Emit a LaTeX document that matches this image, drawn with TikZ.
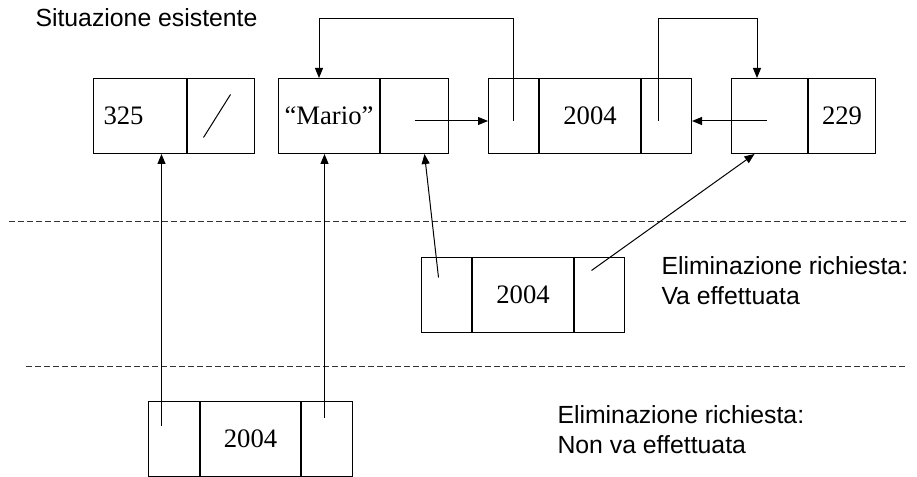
\documentclass[tikz,border=0pt]{standalone}
\usepackage{fontspec}
\setmainfont{Liberation Serif}
\setsansfont{Liberation Sans}
\usetikzlibrary{positioning, arrows.meta}

\tikzset{
  cell/.style={draw, line width=0.75pt, minimum height=56.25pt, inner sep=0pt,
               font=\fontsize{20}{24}\selectfont},
  narrow/.style={cell, minimum width=37.5pt},
  wide/.style={cell, minimum width=75.75pt},
  note/.style={font=\sffamily\fontsize{18.6}{22.5}\selectfont, align=left, inner sep=0pt},
  divide/.style={dash pattern=on 4.5pt off 2.25pt, black!80, line width=0.75pt}
}

\begin{document}
\begin{tikzpicture}[x=0.75pt, y=-0.75pt, line width=0.75pt,
                    >={Triangle[length=7.5pt, width=6pt]}]
  \useasboundingbox (0,0) rectangle (917,477);

  \node[note, anchor=base west] (title) at (35,27) {Situazione esistente};

  \node[cell, anchor=north west, minimum width=69.75pt, inner xsep=7.5pt,
        text width=54.75pt, align=left] (a1) at (93,78) {325};
  \node[cell, minimum width=50.25pt] (a2) [right=0pt of a1] {};
  \node[wide, anchor=north west] (b1) at (278,78) {“Mario”};
  \node[cell, minimum width=51pt] (b2) [right=0pt of b1] {};
  \node[narrow, anchor=north west] (c1) at (488,78) {};
  \node[wide] (c2) [right=0pt of c1] {2004};
  \node[narrow] (c3) [right=0pt of c2] {};
  \node[cell, anchor=north west, minimum width=57pt] (d1) at (731,78) {};
  \node[cell, minimum width=50.25pt] (d2) [right=0pt of d1] {229};

  \node[narrow, anchor=north west] (e1) at (421,257) {};
  \node[wide] (e2) [right=0pt of e1] {2004};
  \node[narrow] (e3) [right=0pt of e2] {};
  \node[note, anchor=north west] (yes) at (661,256) {Eliminazione richiesta:\\Va effettuata};

  \node[narrow, anchor=north west, minimum width=38.25pt] (f1) at (148,401) {};
  \node[wide, minimum width=75pt] (f2) [right=0pt of f1] {2004};
  \node[narrow, minimum width=38.25pt] (f3) [right=0pt of f2] {};
  \node[note, anchor=north west] (no) at (557,405) {Eliminazione richiesta:\\Non va effettuata};

  \draw[divide] (9,222) -- (907,222);
  \draw[divide] (26,366) -- (907,366);

  \draw ([shift={(-17.5,21.5)}]a2.center) -- ([shift={(9.5,-21.5)}]a2.center);

  \coordinate (up1) at (319,19);
  \coordinate (up2) at (757,19);
  \draw[->] ([yshift=-3.75pt]c1.center) |- (up1) -- (up1 |- b1.north);
  \draw[->] ([shift={(-8,5)}]c3.center) |- (up2) -- (up2 |- d1.north);
  \draw[->] ([yshift=-3.75pt]b2.center) -- ([yshift=-3.75pt]c1.west);
  \draw[->] ([shift={(-3,5)}]d1.center) -- ([yshift=-3.75pt]c3.east);

  \draw[->] ([shift={(-8,-17.5)}]e1.center) -- ([shift={(10,0)}]b2.south);
  \draw[->] ([shift={(-8,-24.5)}]e3.center) -- ([shift={(-15,0)}]d1.south);

  \draw[->] ([shift={(-12.5,-13.5)}]f1.center) -- ([xshift=-9.375pt]f1.center |- a1.south);
  \draw[->] ([shift={(-2.5,-21.5)}]f3.center) -- ([xshift=-1.875pt]f3.center |- b1.south);
\end{tikzpicture}
\end{document}
